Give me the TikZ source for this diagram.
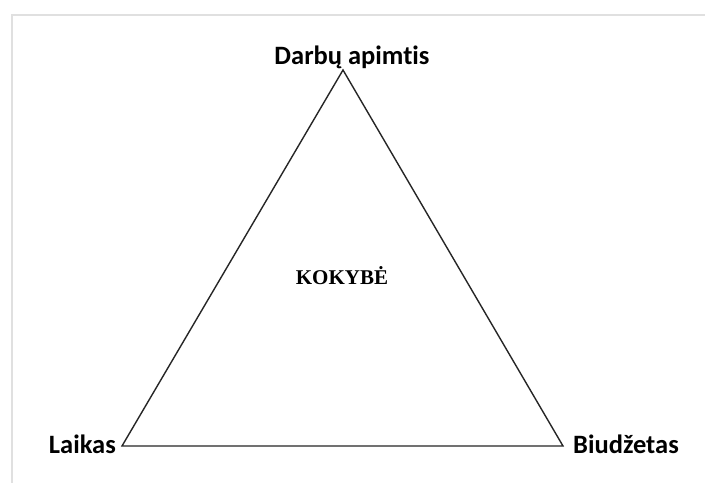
\documentclass[tikz,border=0pt]{standalone}
\usepackage{fontspec}
\setmainfont[Ligatures=NoCommon]{Carlito}
\newfontfamily\serifkk{Liberation Serif}
\begin{document}
\begin{tikzpicture}[x=1pt,y=-1pt,
  lbl/.style={font=\fontsize{26.5}{30}\selectfont\bfseries, inner sep=0pt, text=black},
  side/.style={line width=1.4pt, black!85, line join=miter},
  frame/.style={line width=2.5pt, black!12}]
\useasboundingbox[fill=white] (0,0) rectangle (705,483);
\draw[frame] (12,483) -- (12,15) -- (705,15);
\coordinate (A) at (343,70);
\coordinate (L) at (122,446);
\coordinate (R) at (563,446);
\draw[side] (A) -- (L) -- (R) -- cycle;
\node[lbl, anchor=base] (top) at (352,64) {Darbų apimtis};
\node[lbl, anchor=east] (lk) at (116,444) {Laikas};
\node[lbl, anchor=west] (bd) at (573,444) {Biudžetas};
\node[inner sep=0pt, font=\serifkk\fontsize{21}{24}\selectfont\bfseries] (q) at (342,276) {KOKYBĖ};
\end{tikzpicture}
\end{document}
